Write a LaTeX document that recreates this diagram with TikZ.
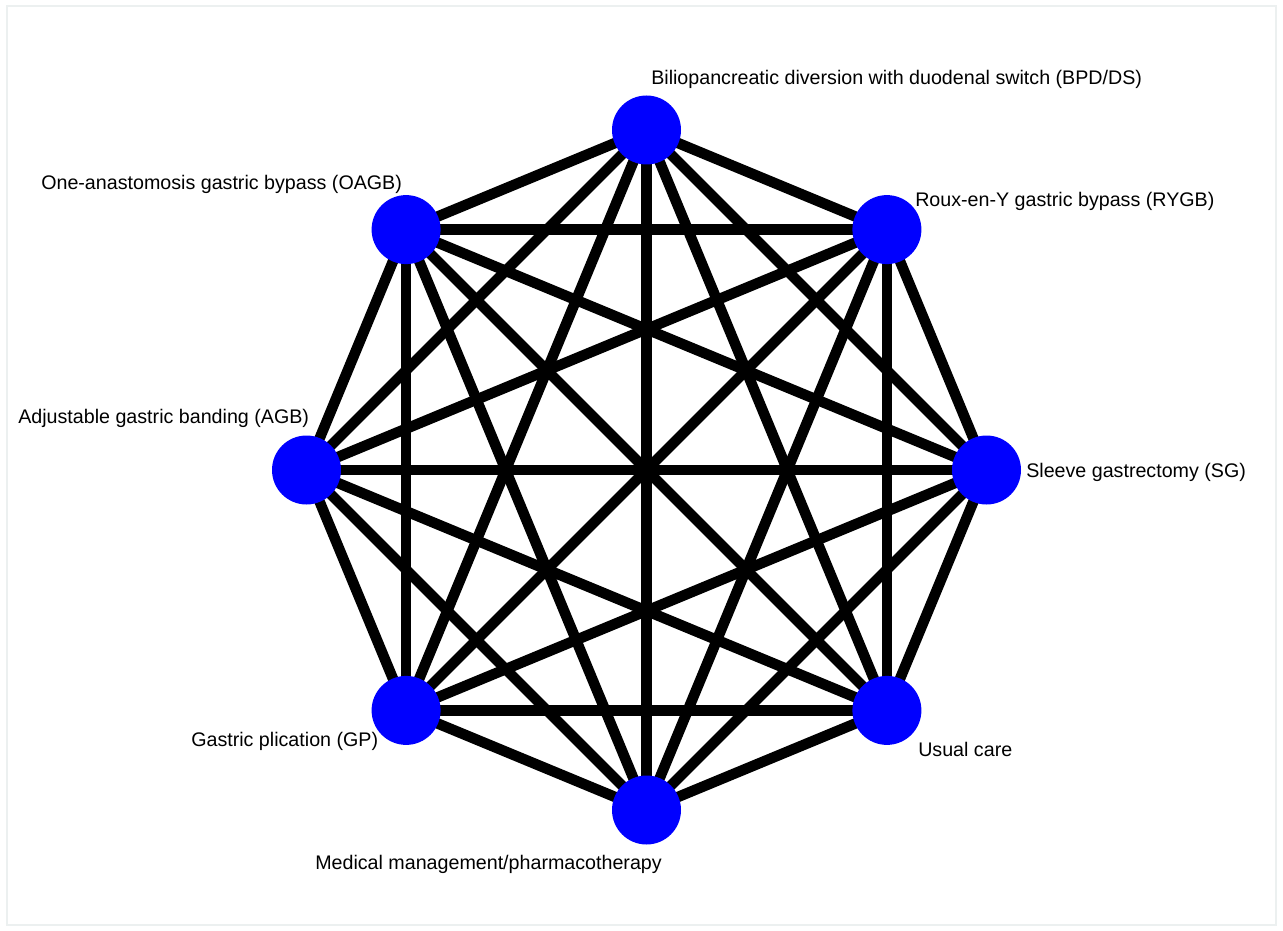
\documentclass[tikz,border=0pt]{standalone}
\usepackage{fontspec}
\setmainfont{Liberation Sans}
\usetikzlibrary{backgrounds}
\definecolor{nodeblue}{RGB}{0,0,255}
\definecolor{framegray}{RGB}{236,240,240}
\tikzset{
  trt/.style={circle,fill=nodeblue,draw=none,minimum size=69pt*0.75,inner sep=0pt},
  lbl/.style={anchor=west,inner sep=0pt,font=\fontsize{14.75pt}{17pt}\selectfont,text=black},
  edge/.style={line width=7.9pt,black}
}
\begin{document}
\begin{tikzpicture}[x=0.75pt,y=-0.75pt]
\useasboundingbox (0,0) rectangle (1283,931);
\draw[framegray,line width=1.5pt] (7,6) rectangle (1276,925);
% nodes (regular octagon, centre (646.5,470), radius 340)
\node[trt] (bpd)  at (646.5,130) {};
\node[trt] (rygb) at (886.9,229.6) {};
\node[trt] (sg)   at (986.5,470) {};
\node[trt] (uc)   at (886.9,710.4) {};
\node[trt] (med)  at (646.5,810) {};
\node[trt] (gp)   at (406.1,710.4) {};
\node[trt] (agb)  at (306.5,470) {};
\node[trt] (oagb) at (406.1,229.6) {};
% labels
\node[lbl] (lbpd)  at (651,79)  {Biliopancreatic diversion with duodenal switch (BPD/DS)};
\node[lbl] (lrygb) at (915,201) {Roux-en-Y gastric bypass (RYGB)};
\node[lbl] (lsg)   at (1026,472) {Sleeve gastrectomy (SG)};
\node[lbl] (luc)   at (918,749) {Usual care};
\node[lbl] (lmed)  at (315,864) {Medical management/pharmacotherapy};
\node[lbl] (lgp)   at (191,741) {Gastric plication (GP)};
\node[lbl] (lagb)  at (18,418)  {Adjustable gastric banding (AGB)};
\node[lbl] (loagb) at (41,184)  {One-anastomosis gastric bypass (OAGB)};
% edges: complete graph
\begin{pgfonlayer}{background}
\foreach \a/\b in {bpd/rygb,bpd/sg,bpd/uc,bpd/med,bpd/gp,bpd/agb,bpd/oagb,
  rygb/sg,rygb/uc,rygb/med,rygb/gp,rygb/agb,rygb/oagb,
  sg/uc,sg/med,sg/gp,sg/agb,sg/oagb,
  uc/med,uc/gp,uc/agb,uc/oagb,
  med/gp,med/agb,med/oagb,
  gp/agb,gp/oagb,
  agb/oagb}
  \draw[edge] (\a.center) -- (\b.center);
\end{pgfonlayer}
\end{tikzpicture}
\end{document}
